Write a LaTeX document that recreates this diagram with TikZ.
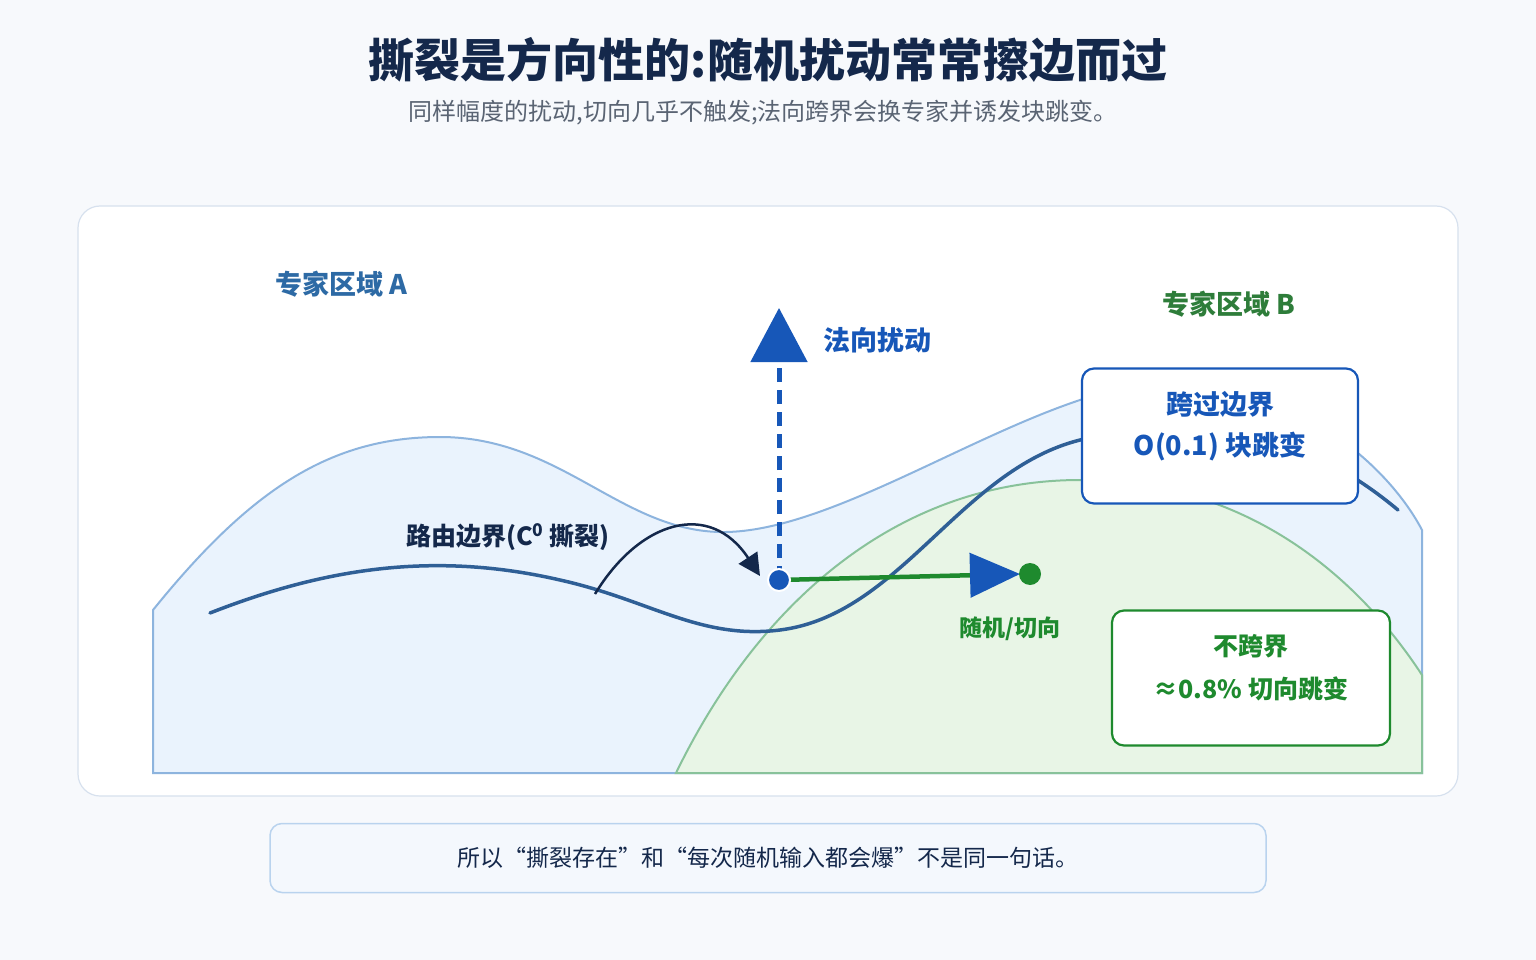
\documentclass[tikz,border=0pt]{standalone}
\usepackage{fontspec}
\setmainfont{Noto Sans CJK SC}
\usetikzlibrary{arrows.meta}
\definecolor{navy}{HTML}{14284B}
\definecolor{bnd}{HTML}{2F5F96}
\definecolor{arb}{HTML}{1757B8}
\definecolor{grn}{HTML}{1E8A2E}
\definecolor{lblA}{HTML}{2D6AA5}
\definecolor{lblB}{HTML}{2E7D3A}
\tikzset{
  fs/.style={font=\fontsize{#1}{#1}\selectfont},
  infobox/.style={draw=#1,line width=2.2pt,rounded corners=12pt,fill=white,minimum width=276pt,minimum height=135pt,align=center},
}
\begin{document}
\begin{tikzpicture}[x=1pt,y=-1pt]
\useasboundingbox (0,0) rectangle (1536,960);
\fill[fill={rgb,255:red,247;green,249;blue,252}] (0,0) rectangle (1536,960);
\node[fs=46,text=navy] (title) at (768,60) {\bfseries 撕裂是方向性的:随机扰动常常擦边而过};
\node[fs=24,text={rgb,255:red,90;green,100;blue,115}] (sub) at (763,113) {同样幅度的扰动,切向几乎不触发;法向跨界会换专家并诱发块跳变。};
\draw[draw={rgb,255:red,215;green,225;blue,238},fill=white,line width=1.2pt,rounded corners=22pt] (78,206) rectangle (1458,796);
% region A
\draw[draw={rgb,255:red,141;green,180;blue,222},fill={rgb,255:red,234;green,243;blue,253},line width=2pt]
 (153,773) -- (153,610) .. controls (250,490) and (330,437) .. (440,437)
 .. controls (560,437) and (620,530) .. (720,532)
 .. controls (820,534) and (960,440) .. (1080,400)
 .. controls (1250,345) and (1380,450) .. (1422,530) -- (1422,773) -- cycle;
% region B
\draw[draw={rgb,255:red,136;green,194;blue,154},fill={rgb,255:red,232;green,245;blue,230},line width=2pt]
 (676,773) .. controls (760,600) and (900,480) .. (1080,480)
 .. controls (1250,480) and (1360,580) .. (1422,675) -- (1422,773) -- cycle;
% boundary
\draw[bnd,line width=3.5pt,line cap=round] (210,613) .. controls (320,570) and (430,550) .. (560,580)
 .. controls (650,600) and (700,640) .. (780,630)
 .. controls (900,615) and (960,470) .. (1080,440)
 .. controls (1250,400) and (1350,470) .. (1398,510);
\node[fs=27,text=lblA] (la) at (341,284) {\bfseries 专家区域 A};
\node[fs=27,text=lblB] (lb) at (1229,304) {\bfseries 专家区域 B};
\node[fs=25,text=navy] (lr) at (508,537) {\bfseries 路由边界(C$^{\mathbf 0}$ 撕裂)};
\coordinate (c1) at (595,594);
\coordinate (c2) at (760,576);
\draw[navy,line width=2.5pt,-{Triangle[length=22pt,width=22pt]}] (c1) .. controls (640,520) and (710,500) .. (c2);
% normal
\coordinate (p) at (779,580);
\coordinate (top) at (779,308);
\draw[arb,line width=5pt,dash pattern=on 14pt off 8pt,-{Triangle[length=54pt,width=56pt]}] (p) -- (top);
\node[fs=27,text=arb,anchor=west] (ln) at (820,340) {\bfseries 法向扰动};
% tangential
\coordinate (g) at (1030,574);
\draw[grn,line width=4.5pt,-{Triangle[length=50pt,width=44pt,fill=arb,color=arb]}] (p) -- (1020,574);
\fill[grn] (g) circle (11pt);
\fill[arb] (p) circle (11pt);
\draw[white,line width=2pt] (p) circle (11pt);
\node[fs=23,text=grn] (lt) at (1010,629) {\bfseries 随机/切向};
% boxes
\node[infobox=arb] (bx) at (1220,436) {};
\node[fs=27,text=arb,align=center] (bxt) at (1220,426) {\bfseries 跨过边界\\[14pt]\bfseries O(0.1) 块跳变};
\node[infobox=grn,minimum width=278pt] (gx) at (1251,678) {};
\node[fs=25,text=grn,align=center] (gxt) at (1251,668) {\bfseries 不跨界\\[18pt]\bfseries ≈0.8\% 切向跳变};
% bottom
\node[draw={rgb,255:red,185;green,211;blue,238},fill={rgb,255:red,244;green,248;blue,253},line width=1.5pt,rounded corners=12pt,minimum width=996pt,minimum height=69pt,fs=23,text=navy] (bot) at (768,858) {所以“撕裂存在”和“每次随机输入都会爆”不是同一句话。};
\end{tikzpicture}
\end{document}
